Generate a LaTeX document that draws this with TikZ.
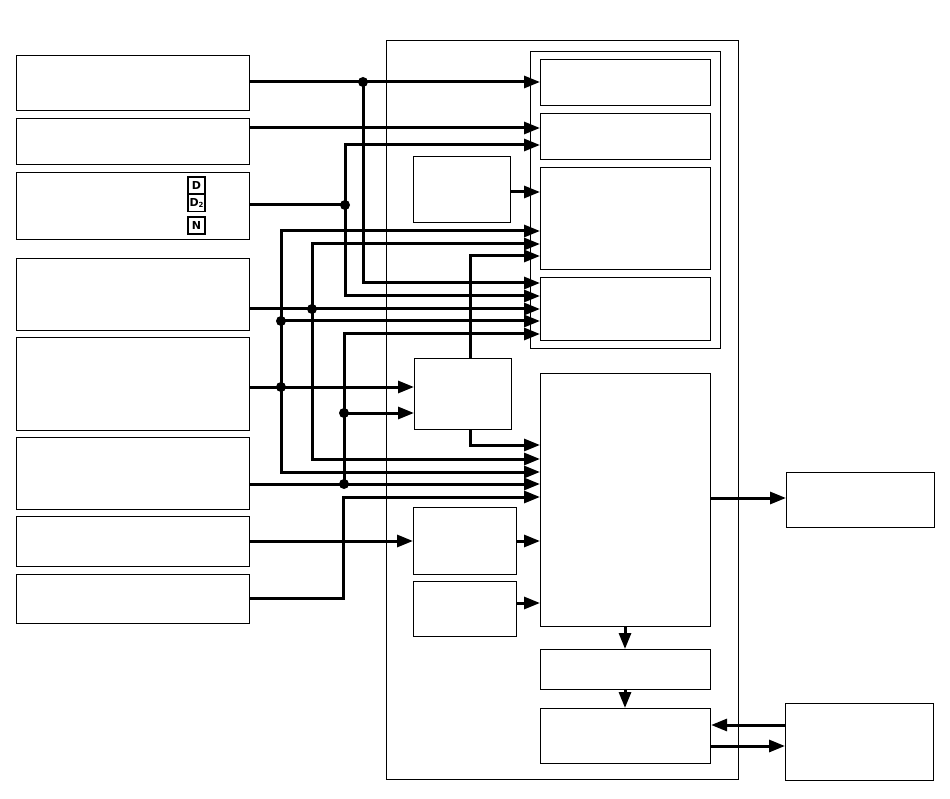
\documentclass[tikz,border=0pt]{standalone}
\usetikzlibrary{arrows.meta}
\usepackage{fontspec}
\newfontfamily\iconfont{DejaVu Sans}
\begin{document}
\begin{tikzpicture}[x=1pt,y=-1pt,
  box/.style={draw,line width=1.1pt,inner sep=0pt,anchor=north west},
  conn/.style={line width=3pt,-{Triangle[length=16pt,width=12pt]}},
  wire/.style={line width=3pt},
  jdot/.style={circle,fill=black,inner sep=0pt,minimum size=10pt},
  icon/.style={draw,line width=1.3pt,inner sep=0pt,minimum width=17pt,minimum height=17pt,font=\iconfont\bfseries\fontsize{11}{11}\selectfont}]
\useasboundingbox (0,0) rectangle (950,799);
% outer container and group
\node[box,minimum width=352pt,minimum height=739pt] (cont) at (386,40) {};
\node[box,minimum width=190pt,minimum height=297pt] (grp) at (530,51) {};
% left boxes
\node[box,minimum width=233pt,minimum height=55pt] (b1) at (16,55) {};
\node[box,minimum width=233pt,minimum height=46pt] (b2) at (16,118) {};
\node[box,minimum width=233pt,minimum height=67pt] (b3) at (16,172) {};
\node[box,minimum width=233pt,minimum height=72pt] (b4) at (16,258) {};
\node[box,minimum width=233pt,minimum height=93pt] (b5) at (16,337) {};
\node[box,minimum width=233pt,minimum height=72pt] (b6) at (16,437) {};
\node[box,minimum width=233pt,minimum height=50pt] (b7) at (16,516) {};
\node[box,minimum width=233pt,minimum height=49pt] (b8) at (16,574) {};
% icons
\node[icon] (ic1) at (196.5,185.5) {D};
\node[icon] (ic2) at (196.5,203) {D\raisebox{-1pt}{\fontsize{7}{7}\selectfont 2}};
\node[icon] (ic3) at (196.5,225.5) {N};
% inner boxes
\node[box,minimum width=170pt,minimum height=46pt] (r1) at (540,59) {};
\node[box,minimum width=170pt,minimum height=46pt] (r2) at (540,113) {};
\node[box,minimum width=170pt,minimum height=102pt] (r3) at (540,167) {};
\node[box,minimum width=170pt,minimum height=63pt] (r4) at (540,277) {};
\node[box,minimum width=97pt,minimum height=66pt] (s1) at (413,156) {};
\node[box,minimum width=97pt,minimum height=71pt] (m) at (414,358) {};
\node[box,minimum width=170pt,minimum height=253pt] (p) at (540,373) {};
\node[box,minimum width=103pt,minimum height=67pt] (s2) at (413,507) {};
\node[box,minimum width=103pt,minimum height=55pt] (s3) at (413,581) {};
\node[box,minimum width=170pt,minimum height=40pt] (q1) at (540,649) {};
\node[box,minimum width=170pt,minimum height=55pt] (q2) at (540,708) {};
\node[box,minimum width=148pt,minimum height=55pt] (o1) at (786,472) {};
\node[box,minimum width=148pt,minimum height=77pt] (o2) at (785,703) {};
% junction coordinates
\coordinate (j1) at (363,82);
\coordinate (j2) at (345,205);
\coordinate (j3) at (312,309);
\coordinate (j4) at (281,387);
\coordinate (j5) at (281,321);
\coordinate (j6) at (344,484);
\coordinate (j7) at (344,413);
\coordinate (k8) at (343,598);
\coordinate (mt) at (470,358);
\coordinate (mb) at (470,429);
% b1
\draw[conn] (b1.east |- j1) -- (r1.west |- j1);
\draw[conn] (j1) |- (r4.west |- 0,283);
% b2
\draw[conn] (b2.east |- 0,128) -- (r2.west |- 0,128);
% b3
\draw[wire] (b3.east |- j2) -- (j2);
\draw[conn] (j2) |- (r2.west |- 0,145);
\draw[conn] (j2) |- (r4.west |- 0,296);
% b4
\draw[conn] (b4.east |- j3) -- (r4.west |- j3);
\draw[conn] (j3) |- (r3.west |- 0,244);
\draw[conn] (j3) |- (p.west |- 0,459);
% b5
\draw[conn] (b5.east |- j4) -- (m.west |- j4);
\draw[conn] (j4) |- (r3.west |- 0,231);
\draw[conn] (j5) -- (r4.west |- j5);
\draw[conn] (j4) |- (p.west |- 0,472);
% b6
\draw[conn] (b6.east |- j6) -- (p.west |- j6);
\draw[conn] (j6) |- (r4.west |- 0,334);
\draw[conn] (j7) -- (m.west |- j7);
% b7, b8
\draw[conn] (b7.east |- 0,541) -- (s2.west |- 0,541);
\draw[conn] (b8.east |- k8) -- (k8) |- (p.west |- 0,497);
% small boxes
\draw[conn] (s1.east |- 0,192) -- (r3.west |- 0,192);
\draw[conn] (mt) |- (r3.west |- 0,256);
\draw[conn] (mb) |- (p.west |- 0,445);
\draw[conn] (s2.east |- 0,541) -- (p.west |- 0,541);
\draw[conn] (s3.east |- 0,603) -- (p.west |- 0,603);
% outputs
\draw[conn] (p.east |- 0,498) -- (o1.west |- 0,498);
\draw[conn] (p.south -| 625,0) -- (q1.north -| 625,0);
\draw[conn] (q1.south -| 625,0) -- (q2.north -| 625,0);
\draw[conn] (o2.west |- 0,725) -- (q2.east |- 0,725);
\draw[conn] (q2.east |- 0,746) -- (o2.west |- 0,746);
% dots
\foreach \j in {j1,j2,j3,j4,j5,j6,j7} \node[jdot] at (\j) {};
\end{tikzpicture}
\end{document}
